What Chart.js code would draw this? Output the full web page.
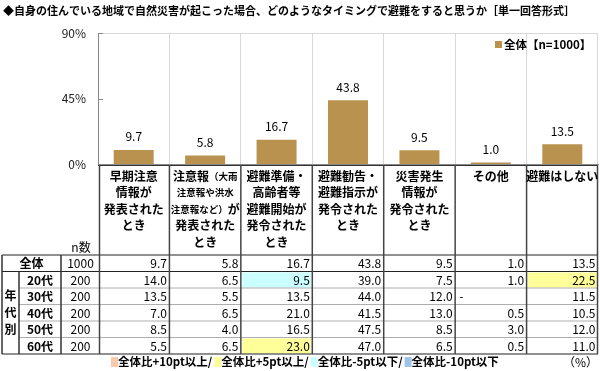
<!DOCTYPE html>
<html>
<head>
<meta charset="utf-8">
<script src="https://cdn.jsdelivr.net/npm/chart.js@4.4.1/dist/chart.umd.min.js"></script>
<style>
  html, body { margin: 0; padding: 0; background: #fff; }
</style>
</head>
<body>
<canvas id="chart" width="600" height="371"></canvas>
<script>
// datos del grafico
const titleText = '◆自身の住んでいる地域で自然災害が起こった場合、どのようなタイミングで避難をすると思うか［単一回答形式］';
// {...} = texto pequeño en la cabecera de la tabla
const categories = [
    '早期注意\n情報が\n発表された\nとき',
    '注意報{（大雨}\n{注意報や洪水}\n{注意報など）}が\n発表された\nとき',
    '避難準備・\n高齢者等\n避難開始が\n発令された\nとき',
    '避難勧告・\n避難指示が\n発令された\nとき',
    '災害発生\n情報が\n発令された\nとき',
    'その他',
    '避難はしない'
];
const seriesLabel = '全体【n=1000】';
const totalN = 1000;
const totalValues = [9.7, 5.8, 16.7, 43.8, 9.5, 1.0, 13.5];
const yTicks = [0, 45, 90];
const ageLabels = ['20代', '30代', '40代', '50代', '60代'];
const ageN = [200, 200, 200, 200, 200];
const ageValues = [
    [14.0, 6.5, 9.5, 39.0, 7.5, 1.0, 22.5],
    [13.5, 5.5, 13.5, 44.0, 12.0, null, 11.5],
    [7.0, 6.5, 21.0, 41.5, 13.0, 0.5, 10.5],
    [8.5, 4.0, 16.5, 47.5, 8.5, 3.0, 12.0],
    [5.5, 6.5, 23.0, 47.0, 6.5, 0.5, 11.0]
];
const diffLegend = ['全体比+10pt以上/', '全体比+5pt以上/', '全体比-5pt以下/', '全体比-10pt以下'];
const diffColors = ['#f8cbad', '#ffff99', '#ccffff', '#9dc3e6'];

const FONT = '"Noto Sans CJK JP", "Noto Sans", sans-serif';
const BAR_COLOR = '#b9924f';

// color de la celda segun la diferencia con el total
function cellColor(v, base) {
    if (v === null) return null;
    const d = v - base;
    if (d >= 10) return diffColors[0];
    if (d >= 5) return diffColors[1];
    if (d <= -10) return diffColors[3];
    if (d <= -5) return diffColors[2];
    return null;
}

// dibuja una linea de cabecera con partes pequeñas
function drawHeaderLine(ctx, line, cx, cy) {
    const parts = [];
    line.split(/(\{[^}]*\})/).forEach(p => {
        if (!p) return;
        if (p[0] === '{') parts.push({ t: p.slice(1, -1), small: true });
        else parts.push({ t: p, small: false });
    });
    const fontOf = p => p.small ? 'bold 9.5px ' + FONT : 'bold 12px ' + FONT;
    let w = 0;
    parts.forEach(p => { ctx.font = fontOf(p); w += ctx.measureText(p.t).width; });
    let x = cx - w / 2;
    ctx.textAlign = 'left';
    parts.forEach(p => {
        ctx.font = fontOf(p);
        ctx.fillText(p.t, x, cy);
        x += ctx.measureText(p.t).width;
    });
}

const tablePlugin = {
    id: 'tablePlugin',
    afterDraw(chart) {
        const ctx = chart.ctx;
        const area = chart.chartArea;
        const xs = chart.scales.x;
        const ys = chart.scales.y;
        const colW = area.width / categories.length;
        const colL = i => xs.getPixelForValue(i) - colW / 2;
        const colR = i => xs.getPixelForValue(i) + colW / 2;

        ctx.save();
        ctx.fillStyle = '#000';
        ctx.textBaseline = 'middle';

        // titulo
        ctx.font = 'bold 11px ' + FONT;
        ctx.textAlign = 'left';
        ctx.fillText(titleText, 3, 11);

        // borde superior del area
        ctx.strokeStyle = '#d9d9d9';
        ctx.lineWidth = 1;
        ctx.beginPath();
        ctx.moveTo(area.left, area.top + 0.5);
        ctx.lineTo(area.right, area.top + 0.5);
        ctx.stroke();

        // marcas cortas del eje y
        ctx.strokeStyle = '#888';
        yTicks.forEach(t => {
            const y = Math.round(ys.getPixelForValue(t)) + 0.5;
            ctx.beginPath();
            ctx.moveTo(area.left, y);
            ctx.lineTo(area.left + 5, y);
            ctx.stroke();
        });

        // leyenda
        ctx.fillStyle = BAR_COLOR;
        ctx.fillRect(495, 41, 7, 7);
        ctx.fillStyle = '#000';
        ctx.font = 'bold 11.5px ' + FONT;
        ctx.fillText(seriesLabel, 504, 45);

        // etiquetas de datos
        ctx.font = '12px ' + FONT;
        ctx.textAlign = 'center';
        chart.getDatasetMeta(0).data.forEach((bar, i) => {
            ctx.fillText(totalValues[i].toFixed(1), bar.x, bar.y - 13);
        });

        // tabla
        const headTop = area.bottom + 1;
        const tableTop = 255;
        const rowH = 16.5;
        const tableBottom = tableTop + rowH * 6;
        const rows = [totalValues].concat(ageValues);

        // celdas resaltadas
        ageValues.forEach((vals, r) => {
            vals.forEach((v, c) => {
                const col = cellColor(v, totalValues[c]);
                if (!col) return;
                const top = tableTop + rowH * (r + 1);
                ctx.fillStyle = col;
                ctx.fillRect(colL(c) + 1.5, top + 1, colW - 3, rowH - 1.5);
            });
        });

        // lineas
        const hline = (x1, x2, y, color, w) => {
            ctx.strokeStyle = color;
            ctx.lineWidth = w;
            ctx.beginPath();
            ctx.moveTo(x1, y);
            ctx.lineTo(x2, y);
            ctx.stroke();
        };
        const vline = (x, y1, y2, color, w) => {
            ctx.strokeStyle = color;
            ctx.lineWidth = w;
            ctx.beginPath();
            ctx.moveTo(x, y1);
            ctx.lineTo(x, y2);
            ctx.stroke();
        };
        hline(colL(0), area.right, headTop + 0.5, '#333', 1.2);
        hline(2, area.right, tableTop, '#222', 1.2);
        hline(2, area.right, tableTop + rowH, '#222', 1);
        for (let r = 2; r < 6; r++) {
            hline(19, area.right, tableTop + rowH * r, '#999', 0.8);
        }
        hline(2, area.right, tableBottom, '#222', 1.2);

        vline(2, tableTop, tableBottom, '#333', 1.5);
        vline(19, tableTop + rowH, tableBottom, '#333', 1.5);
        vline(61, tableTop, tableBottom, '#333', 1.5);
        for (let c = 0; c <= categories.length; c++) {
            const x = c === categories.length ? area.right - 0.5 : colL(c) + (c === 0 ? 1.5 : 0);
            vline(x, headTop, tableBottom, '#444', 1.5);
        }

        // textos de la cabecera
        ctx.fillStyle = '#000';
        categories.forEach((cat, c) => {
            const cx = xs.getPixelForValue(c);
            cat.split('\n').forEach((line, k) => {
                drawHeaderLine(ctx, line, cx, 176 + k * 16.5);
            });
        });
        ctx.font = '12px ' + FONT;
        ctx.textAlign = 'center';
        ctx.fillText('n数', 81, 247);

        // filas
        rows.forEach((vals, r) => {
            const cy = tableTop + rowH * r + rowH / 2 + 0.5;
            ctx.textAlign = 'center';
            if (r === 0) {
                ctx.font = 'bold 12px ' + FONT;
                ctx.fillText('全体', 31.5, cy);
                ctx.font = '12px ' + FONT;
                ctx.fillText(String(totalN), 80.5, cy);
            } else {
                ctx.font = 'bold 12px ' + FONT;
                ctx.fillText(ageLabels[r - 1], 40, cy);
                ctx.font = '12px ' + FONT;
                ctx.fillText(String(ageN[r - 1]), 80.5, cy);
            }
            vals.forEach((v, c) => {
                if (v === null) {
                    ctx.textAlign = 'left';
                    ctx.fillText('-', colL(c) + 4, cy);
                } else {
                    ctx.textAlign = 'right';
                    ctx.fillText(v.toFixed(1), colR(c) - 2.5, cy);
                }
            });
        });

        // "年代別" vertical
        ctx.font = 'bold 12px ' + FONT;
        ctx.textAlign = 'center';
        const midAge = tableTop + rowH + (rowH * 5) / 2;
        ['年', '代', '別'].forEach((ch, k) => {
            ctx.fillText(ch, 10.5, midAge + (k - 1) * 17);
        });

        // leyenda inferior
        let lx = 111;
        const ly = 362;
        ctx.font = 'bold 11.5px ' + FONT;
        ctx.textAlign = 'left';
        diffLegend.forEach((txt, i) => {
            ctx.fillStyle = diffColors[i];
            ctx.fillRect(lx, ly - 5, 7, 10);
            ctx.fillStyle = '#000';
            ctx.fillText(txt, lx + 7, ly);
            lx += 7 + ctx.measureText(txt).width + 2;
        });
        ctx.font = '12px ' + FONT;
        ctx.fillText('（%）', 563, ly);

        ctx.restore();
    }
};

const ctx = document.getElementById('chart');
new Chart(ctx, {
    type: 'bar',
    data: {
        labels: categories,
        datasets: [{
            label: seriesLabel,
            data: totalValues,
            backgroundColor: BAR_COLOR,
            barPercentage: 0.56,
            categoryPercentage: 1
        }]
    },
    options: {
        responsive: false,
        animation: false,
        devicePixelRatio: 1,
        layout: { padding: { top: 33, right: 2, bottom: 207, left: 0 } },
        scales: {
            x: {
                ticks: { display: false },
                grid: { color: '#d9d9d9', drawTicks: false, offset: true },
                border: { color: '#888' },
                afterFit: s => { s.height = 0; }
            },
            y: {
                min: 0,
                max: 90,
                afterBuildTicks: s => { s.ticks = yTicks.map(v => ({ value: v })); },
                ticks: {
                    callback: v => v + '%',
                    font: { size: 12, family: FONT },
                    color: '#222',
                    padding: 12
                },
                grid: { display: false, drawTicks: false },
                border: { color: '#888' },
                afterFit: s => { s.width = 98; }
            }
        },
        plugins: {
            legend: { display: false },
            tooltip: { enabled: false }
        }
    },
    plugins: [tablePlugin]
});
</script>
</body>
</html>
